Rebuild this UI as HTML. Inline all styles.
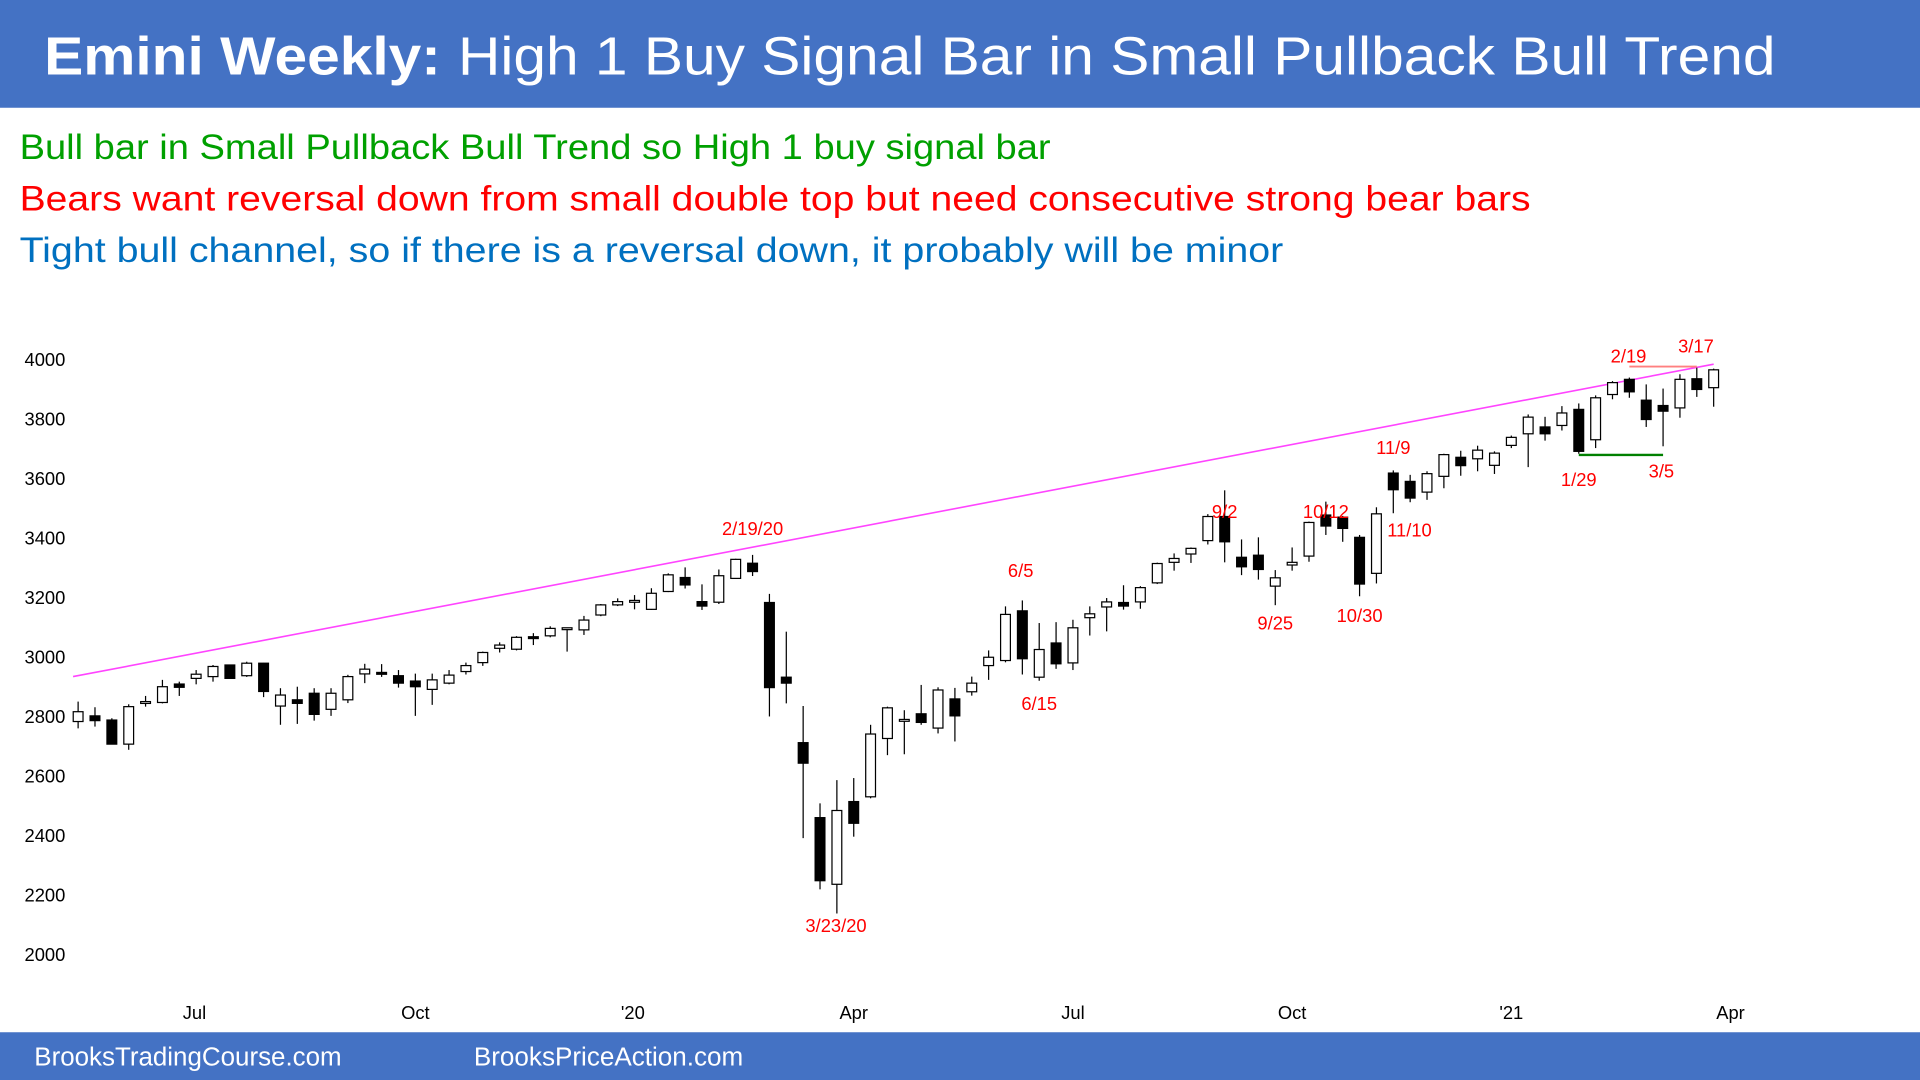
<!DOCTYPE html>
<html><head><meta charset="utf-8"><title>Emini Weekly</title>
<style>
html,body{margin:0;padding:0;background:#fff;width:1920px;height:1080px;overflow:hidden;}
svg{display:block;font-family:"Liberation Sans",Arial,sans-serif;}
</style></head>
<body>
<svg id="chart" width="1920" height="1080" viewBox="0 0 1568 882" preserveAspectRatio="none" xmlns="http://www.w3.org/2000/svg">
  <rect x="0" y="0" width="1568" height="88" fill="#4472C4"/>
  <text y="61" fill="#fff" font-size="44"><tspan font-weight="bold" x="36" textLength="324" lengthAdjust="spacingAndGlyphs">Emini Weekly:</tspan><tspan x="374" textLength="1076" lengthAdjust="spacingAndGlyphs">High 1 Buy Signal Bar in Small Pullback Bull Trend</tspan></text>
  <text x="16" y="130" fill="#00A000" font-size="29" textLength="842" lengthAdjust="spacingAndGlyphs">Bull bar in Small Pullback Bull Trend so High 1 buy signal bar</text>
  <text x="16" y="172" fill="#FF0000" font-size="29" textLength="1234" lengthAdjust="spacingAndGlyphs">Bears want reversal down from small double top but need consecutive strong bear bars</text>
  <text x="16" y="214" fill="#0070C0" font-size="29" textLength="1032" lengthAdjust="spacingAndGlyphs">Tight bull channel, so if there is a reversal down, it probably will be minor</text>
  <g id="yaxis"></g>
  <g id="xaxis"></g>
  <g id="lines"></g>
  <g id="candles"></g>
  <g id="labels"></g>
  <rect x="0" y="843" width="1568" height="39" fill="#4472C4"/>
  <text x="28" y="870" fill="#fff" font-size="21" textLength="251" lengthAdjust="spacingAndGlyphs">BrooksTradingCourse.com</text>
  <text x="387" y="870" fill="#fff" font-size="21" textLength="220" lengthAdjust="spacingAndGlyphs">BrooksPriceAction.com</text>
</svg>
<script>
const opens = [2785,2804,2790,2709,2850,2849,2911,2930,2936,2975,2939,2981,2837,2858,2880,2826,2858,2945,2950,2939,2921,2893,2914,2953,2983,3031,3028,3070,3073,3097,3093,3143,3177,3190,3162,3222,3269,3188,3186,3266,3317,3185,2934,2714,2462,2238,2516,2532,2728,2790,2811,2763,2861,2885,2973,2990,3157,2934,3049,2982,3134,3170,3185,3187,3251,3320,3348,3393,3474,3337,3344,3240,3311,3341,3479,3472,3404,3283,3620,3592,3556,3609,3673,3668,3646,3713,3752,3775,3780,3834,3732,3884,3935,3865,3847,3839,3937,3907];
const highs = [2852,2833,2796,2843,2871,2925,2919,2958,2975,2976,2986,2982,2897,2902,2897,2897,2942,2979,2978,2958,2946,2946,2958,2983,3020,3051,3072,3082,3105,3101,3140,3180,3199,3210,3233,3283,3303,3246,3296,3332,3345,3214,3087,2837,2510,2588,2595,2774,2835,2823,2908,2900,2898,2936,3024,3172,3192,3116,3119,3127,3172,3200,3243,3240,3319,3350,3370,3482,3562,3397,3404,3294,3370,3457,3524,3476,3412,3505,3629,3614,3626,3685,3695,3712,3693,3746,3817,3809,3845,3854,3881,3929,3941,3918,3904,3952,3974,3971];
const lows = [2762,2768,2709,2690,2835,2846,2871,2910,2919,2929,2935,2867,2774,2777,2788,2804,2847,2914,2935,2899,2804,2841,2910,2943,2972,3017,3024,3042,3068,3020,3076,3139,3173,3162,3160,3220,3232,3160,3180,3264,3274,2802,2846,2393,2221,2140,2398,2527,2672,2675,2774,2745,2718,2872,2925,2984,2943,2922,2962,2958,3074,3088,3161,3164,3247,3292,3318,3380,3320,3277,3262,3176,3292,3322,3412,3389,3206,3249,3485,3522,3530,3569,3611,3626,3617,3704,3640,3729,3763,3685,3704,3868,3873,3775,3710,3806,3876,3843];
const closes = [2818,2788,2709,2835,2852,2902,2900,2944,2970,2930,2981,2886,2874,2846,2809,2880,2936,2961,2944,2914,2902,2925,2941,2973,3017,3042,3068,3065,3098,3100,3126,3177,3188,3192,3216,3278,3244,3173,3275,3330,3289,2899,2914,2645,2250,2486,2443,2743,2831,2792,2782,2891,2804,2914,3001,3145,2996,3027,2979,3100,3147,3187,3173,3235,3316,3333,3367,3474,3389,3305,3296,3268,3320,3454,3442,3434,3247,3483,3564,3536,3618,3682,3645,3697,3687,3740,3808,3752,3822,3693,3873,3924,3893,3800,3828,3935,3901,3967];
const yTicks = [4000,3800,3600,3400,3200,3000,2800,2600,2400,2200,2000];
const monthLabels = ["Jul","Oct","'20","Apr","Jul","Oct","'21","Apr"];
const monthIndex = [6.9,20,32.9,46,59,72,85,98];
const dateLabels = ["2/19/20","3/23/20","6/5","6/15","9/2","9/25","10/12","10/30","11/9","11/10","1/29","3/5","2/19","3/17"];
const dateLabelIndex = [40,44.95,55.9,57,68,71,74,76,78,78.96,89,93.9,91.95,95.95];
const dateLabelPrice = [3432,2099,3292,2844,3490,3115,3490,3140,3704,3428,3597,3626,4012,4045];
const trendIdx = [-0.3,97];
const trendPrice = [2936,3986];
const resistIdx = [92,96];
const resistPrice = [3978,3978];
const supportIdx = [89,94];
const supportPrice = [3681,3681];

const NS = "http://www.w3.org/2000/svg";
function xs(i){ return 63.8 + i*13.77; }
function ys(p){ return 294 + (4000-p)*0.243; }
function mk(tag, attrs, parent){ const e=document.createElementNS(NS,tag); for(const k in attrs) e.setAttribute(k,attrs[k]); parent.appendChild(e); return e; }

const yg=document.getElementById('yaxis');
yTicks.forEach(v=>{
  const t=mk('text',{x:20,y:ys(v)+5,'font-size':15,fill:'#000'},yg);
  
  
  t.textContent=v;
});
const xg=document.getElementById('xaxis');
monthLabels.forEach((m,k)=>{
  const t=mk('text',{x:xs(monthIndex[k]),y:832,'font-size':15,fill:'#000','text-anchor':'middle'},xg);
  
  
  t.textContent=m;
});
const lg=document.getElementById('lines');
const tl=mk('line',{x1:xs(trendIdx[0]),y1:ys(trendPrice[0]),x2:xs(trendIdx[1]),y2:ys(trendPrice[1]),stroke:'#FF44FF','stroke-width':1.3},lg);


const rl=mk('line',{x1:xs(resistIdx[0]),y1:ys(resistPrice[0]),x2:xs(resistIdx[1]),y2:ys(resistPrice[1]),stroke:'#FF8080','stroke-width':1.5},lg);


const sl=mk('line',{x1:xs(supportIdx[0]),y1:ys(supportPrice[0]),x2:xs(supportIdx[1]),y2:ys(supportPrice[1]),stroke:'#008000','stroke-width':2},lg);



const cg=document.getElementById('candles');
opens.forEach((o,i)=>{
  const c=closes[i], x=xs(i);
  const g=mk('g',{},cg);
  
  
  mk('line',{x1:x,x2:x,y1:ys(highs[i]),y2:ys(lows[i]),stroke:'#000','stroke-width':1},g);
  const top=ys(Math.max(o,c)), bot=ys(Math.min(o,c));
  const h=Math.max(bot-top,1.5);
  mk('rect',{x:x-4,y:top,width:8,height:h,fill:c>=o?'#fff':'#000',stroke:'#000','stroke-width':1},g);
});
const dg=document.getElementById('labels');
dateLabels.forEach((s,k)=>{
  const t=mk('text',{x:xs(dateLabelIndex[k]),y:ys(dateLabelPrice[k])+5,'font-size':15,fill:'#FF0000','text-anchor':'middle'},dg);
  
  
  t.textContent=s;
});
</script>
</body></html>
